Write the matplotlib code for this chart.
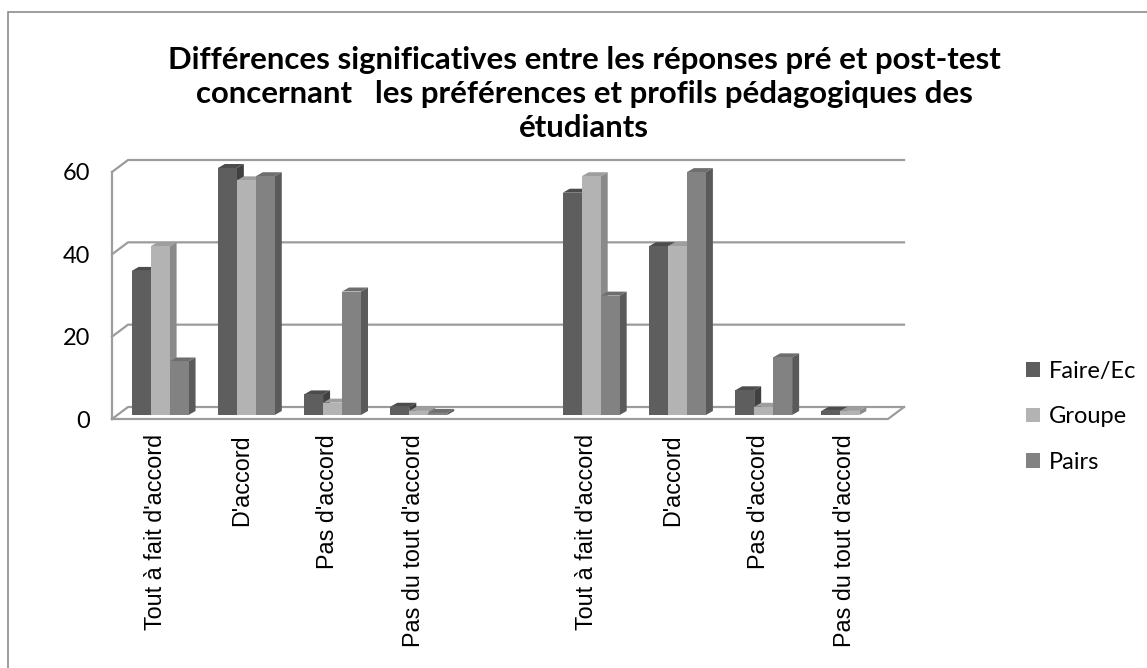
import matplotlib
matplotlib.use("Agg")
import matplotlib.pyplot as plt
from matplotlib.patches import Polygon, Patch, Rectangle

# data
categories = ["Tout à fait d'accord", "D'accord", "Pas d'accord", "Pas du tout d'accord"]
faire_ec = [35, 60, 5, 2, 54, 41, 6, 1]
groupe = [41, 57, 3, 1, 58, 41, 2, 1]
pairs = [13, 58, 30, 0.5, 29, 59, 14, 0]
series_names = ["Faire/Ec", "Groupe", "Pairs"]
y_ticks = [0, 20, 40, 60]
title = ("Différences significatives entre les réponses pré et post-test\n"
         "concernant   les préférences et profils pédagogiques des\n"
         "étudiants")

# colours: front, side, top
colors = {
    "Faire/Ec": ("#5e5e5e", "#404040", "#4c4c4c"),
    "Groupe": ("#b3b3b3", "#8a8a8a", "#9e9e9e"),
    "Pairs": ("#828282", "#5a5a5a", "#6e6e6e"),
}

W, H = 1147, 668
fig = plt.figure(figsize=(W / 100, H / 100), dpi=100)

# front plane of the 3D box
ax = fig.add_axes([112 / W, (H - 419) / H, 776 / W, 247 / H])
ax.set_xlim(-0.5, 8.5)
ax.set_ylim(0, 60)
for s in ax.spines.values():
    s.set_visible(False)

px = 9 / 776      # data units per pixel (x)
py = 60 / 247     # data units per pixel (y)
DX, DY = 16 * px, 12 * py          # wall depth
FX, FY = 5 * px, 4 * py            # bar front offset
BX, BY = 7 * px, 4 * py            # bar depth
grid_c = "#9c9c9c"
glw = 1.6

# walls and gridlines
for v in y_ticks:
    ax.plot([-0.5, -0.5 + DX, 8.5 + DX], [v, v + DY, v + DY],
            color=grid_c, lw=glw, clip_on=False, zorder=1)
ax.plot([-0.5, -0.5], [0, 60], color=grid_c, lw=glw, clip_on=False, zorder=1)
ax.plot([-0.5, 8.5, 8.5 + DX], [0, 0, DY], color=grid_c, lw=glw,
        clip_on=False, zorder=1)

# category slots: two blocks of four with an empty slot between
positions = [i if i < len(categories) else i + 1 for i in range(len(faire_ec))]
bar_w = 0.22

z = 2
for k, pos in enumerate(positions):
    for i, (name, vals) in enumerate(zip(series_names, [faire_ec, groupe, pairs])):
        v = vals[k]
        if v <= 0:
            continue
        front, side, top = colors[name]
        x0 = pos + (i - 1) * bar_w - bar_w / 2 + FX
        x1 = x0 + bar_w
        y0, y1 = FY, FY + v
        ax.add_patch(Polygon([(x0, y1), (x1, y1), (x1 + BX, y1 + BY), (x0 + BX, y1 + BY)],
                             closed=True, fc=top, ec="none", clip_on=False, zorder=z))
        ax.add_patch(Polygon([(x1, y0), (x1 + BX, y0 + BY), (x1 + BX, y1 + BY), (x1, y1)],
                             closed=True, fc=side, ec="none", clip_on=False, zorder=z))
        ax.add_patch(Polygon([(x0, y0), (x1, y0), (x1, y1), (x0, y1)],
                             closed=True, fc=front, ec="none", clip_on=False, zorder=z))
        z += 1

ax.set_xticks(positions, categories * 2, rotation=90,
              fontfamily="Liberation Sans", fontsize=16.8)
ax.set_yticks(y_ticks, [str(t) for t in y_ticks], fontfamily="Lato", fontsize=17)
ax.tick_params(axis="x", length=0, pad=11)
ax.tick_params(axis="y", length=0, pad=16)
for lab in ax.get_xticklabels():
    lab.set_va("top")

# legend
handles = [Patch(fc=colors[n][0], ec="none") for n in series_names]
fig.legend(handles, series_names, loc="upper left",
           bbox_to_anchor=(1026 / W, 1 - 361 / H), frameon=False,
           prop={"family": "Lato", "size": 17}, handlelength=0.6, handleheight=0.6,
           handletextpad=0.35, labelspacing=1.03, borderpad=0, borderaxespad=0)

# title
fig.text(584 / W, 1 - 94 / H, title, ha="center", va="center",
         fontfamily="Lato", fontweight="bold", fontsize=22.4, linespacing=1.27)

# chart border (cut off at right and bottom in the reference)
fig.add_artist(Rectangle((8 / W, -0.1), 1.2, 1.1 - 12 / H, transform=fig.transFigure,
                         fill=False, ec="#8c8c8c", lw=1.2))

fig.savefig("out.png", dpi=100)
